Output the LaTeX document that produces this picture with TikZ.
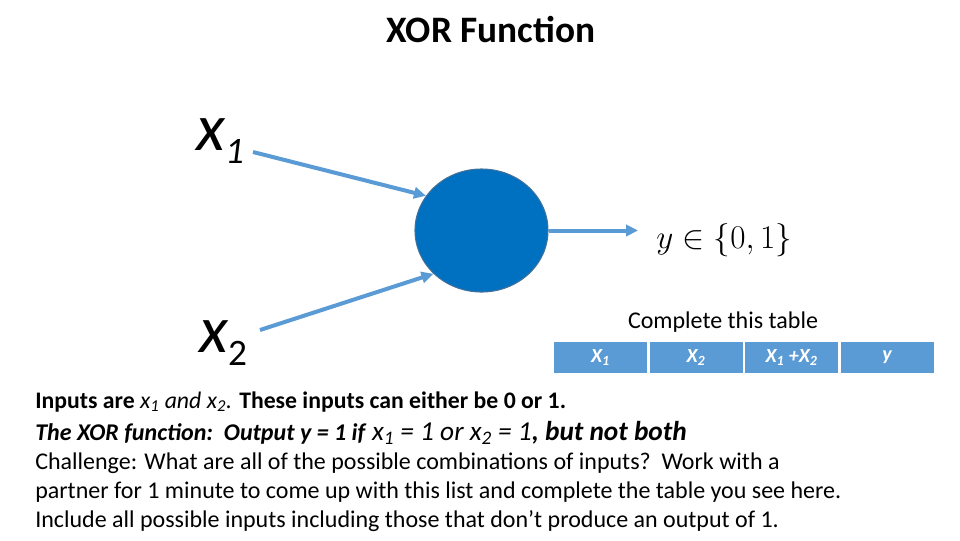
\documentclass[tikz,border=0pt]{standalone}
\usepackage{fontspec}
\setmainfont{Carlito}
\usepackage{amsmath,amssymb}
\usepackage{xcolor}
\usepackage{tikz}
\usetikzlibrary{shapes.geometric, arrows.meta, positioning}

\definecolor{linkblue}{HTML}{5B9BD5}
\definecolor{neuronblue}{HTML}{0070C0}
\definecolor{neuronrim}{HTML}{41719C}

\begin{document}
\begin{tikzpicture}[
x=0.75pt, y=-0.75pt,
link/.style={
draw=linkblue,
line width=3pt,
-{Triangle[length=9pt,width=8.5pt]}
},
cell/.style={
rectangle,
fill=linkblue,
text=white,
inner sep=0pt,
minimum width=69.75pt,
minimum height=23.25pt,
font=\fontsize{15}{18}\selectfont\bfseries\itshape
},
inlabel/.style={
inner sep=0pt,
anchor=base west,
font=\fontsize{50}{58}\selectfont\itshape
}
]
\useasboundingbox (0,0) rectangle (960,540);

\node[font=\fontsize{28}{34}\selectfont\bfseries, anchor=base, inner sep=0pt]
(title) at (491,42) {XOR Function};

% inputs and neuron
\node[inlabel] (x1) at (196,150)
{x\raisebox{-9.75pt}{\fontsize{28}{32}\selectfont 1}};
\node[inlabel] (x2) at (199,352)
{x\raisebox{-9.75pt}{\fontsize{28}{32}\selectfont\upshape 2}};

\node[ellipse, fill=neuronblue, draw=neuronrim, line width=0.8pt, inner sep=0pt,
minimum width=99.75pt, minimum height=92.25pt] (neuron) at (481.5,230.5) {};

\coordinate (s1) at (253,152);
\coordinate (s2) at (260,330);
\coordinate (tip) at (638,230.5);

\draw[link] (s1) -- (neuron.148);
\draw[link] (s2) -- (neuron.222);
\draw[link] (neuron.east) -- (tip);

\node[anchor=base west, inner sep=0pt, font=\fontsize{36}{42}\selectfont]
(out) at (656,248) {$y \in \{0,1\}$};

% table
\node[anchor=base, inner sep=0pt, font=\fontsize{18}{22}\selectfont]
(caption) at (723,328) {Complete this table};

\node[cell] (c1) at (600.5,357.5) {X\textsubscript{1}};
\node[cell, right=1.5pt of c1] (c2) {X\textsubscript{2}};
\node[cell, right=1.5pt of c2] (c3) {X\textsubscript{1} +X\textsubscript{2}};
\node[cell, right=1.5pt of c3] (c4) {y};

% text below
\node[anchor=base west, inner sep=0pt, font=\fontsize{17.8}{22}\selectfont]
(inputs) at (35,408)
{\textbf{Inputs are} \textit{x\textsubscript{1} and x\textsubscript{2}.} \textbf{These inputs can either be 0 or 1.}};

\node[anchor=base west, inner sep=0pt, font=\fontsize{18}{22}\selectfont]
(rule) at (35,440)
{\textbf{\textit{The XOR function:\ \ Output y = 1 if}} {\fontsize{20.5}{25}\selectfont\textit{x\textsubscript{1} = 1 or x\textsubscript{2} = 1}\textbf{\textit{, but not both}}}};

\node[anchor=north west, inner sep=0pt, align=left,
font=\fontsize{18}{21.75}\selectfont] (challenge) at (35,453)
{Challenge: What are all of the possible combinations of inputs?\ \ Work with a\\
partner for 1 minute to come up with this list and complete the table you see here.\\
Include all possible inputs including those that don't produce an output of 1.};

\end{tikzpicture}
\end{document}
